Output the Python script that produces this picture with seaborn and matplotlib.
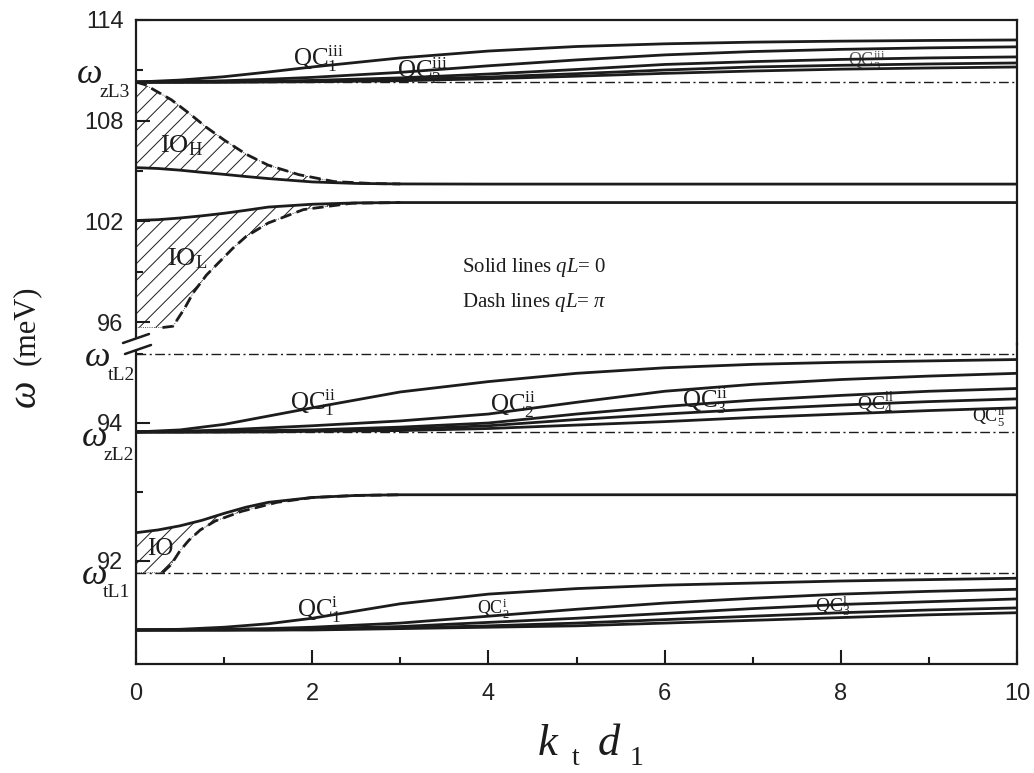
import numpy as np
import pandas as pd
import matplotlib
matplotlib.use("Agg")
import matplotlib.pyplot as plt
import seaborn as sns
from matplotlib.lines import Line2D
from matplotlib.patches import Polygon

# ---------------- data ----------------
x_qc = [0, 0.5, 1, 1.5, 2, 3, 4, 5, 6, 7, 8, 9, 10]

# upper group QC^iii (start at omega_zL3)
qc_iii_1 = [110.3, 110.42, 110.62, 110.9, 111.2, 111.74, 112.15, 112.42, 112.58, 112.68, 112.74, 112.78, 112.81]
qc_iii_2 = [110.3, 110.32, 110.38, 110.47, 110.58, 110.88, 111.27, 111.62, 111.92, 112.12, 112.25, 112.34, 112.4]
qc_iii_3 = [110.3, 110.3, 110.32, 110.35, 110.4, 110.55, 110.78, 111.05, 111.35, 111.52, 111.65, 111.74, 111.8]
qc_iii_4 = [110.3, 110.3, 110.3, 110.32, 110.35, 110.45, 110.6, 110.8, 111.02, 111.2, 111.3, 111.38, 111.44]
qc_iii_5 = [110.3, 110.3, 110.3, 110.31, 110.32, 110.38, 110.5, 110.65, 110.82, 110.96, 111.07, 111.14, 111.2]

# middle group QC^ii (start at omega_zL2)
qc_ii_1 = [93.87, 93.9, 93.98, 94.1, 94.22, 94.45, 94.6, 94.72, 94.8, 94.85, 94.88, 94.9, 94.92]
qc_ii_2 = [93.87, 93.88, 93.9, 93.93, 93.96, 94.03, 94.13, 94.3, 94.46, 94.56, 94.63, 94.68, 94.72]
qc_ii_3 = [93.87, 93.87, 93.88, 93.89, 93.9, 93.94, 94.0, 94.13, 94.24, 94.33, 94.4, 94.46, 94.5]
qc_ii_4 = [93.87, 93.87, 93.87, 93.88, 93.89, 93.91, 93.96, 94.05, 94.13, 94.2, 94.26, 94.31, 94.35]
qc_ii_5 = [93.87, 93.87, 93.87, 93.87, 93.88, 93.89, 93.92, 93.97, 94.02, 94.08, 94.13, 94.18, 94.22]

# lower group QC^i
qc_i_1 = [91.0, 91.01, 91.04, 91.09, 91.17, 91.38, 91.52, 91.6, 91.65, 91.68, 91.71, 91.73, 91.75]
qc_i_2 = [91.0, 91.0, 91.01, 91.02, 91.04, 91.1, 91.2, 91.3, 91.39, 91.46, 91.52, 91.56, 91.59]
qc_i_3 = [91.0, 91.0, 91.0, 91.01, 91.02, 91.05, 91.11, 91.17, 91.24, 91.31, 91.37, 91.41, 91.45]
qc_i_4 = [91.0, 91.0, 91.0, 91.0, 91.01, 91.03, 91.06, 91.1, 91.15, 91.2, 91.25, 91.29, 91.32]
qc_i_5 = [91.0, 91.0, 91.0, 91.0, 91.0, 91.02, 91.04, 91.06, 91.1, 91.14, 91.18, 91.22, 91.25]

# interface (IO) modes
x_io = [0, 0.25, 0.5, 0.75, 1.0, 1.25, 1.5, 2, 2.5, 3, 4, 6, 8, 10]
ioH_solid = [105.2, 105.15, 105.05, 104.92, 104.8, 104.67, 104.55, 104.35, 104.26, 104.23, 104.22, 104.22, 104.22, 104.22]
ioH_dash_x = [0, 0.1, 0.4, 0.6, 0.8, 1.0, 1.25, 1.5, 1.85, 2.25, 2.7, 3.0]
ioH_dash = [110.3, 110.15, 109.25, 108.45, 107.6, 106.85, 106.0, 105.35, 104.78, 104.37, 104.25, 104.23]

ioL_solid = [102.05, 102.1, 102.2, 102.33, 102.48, 102.66, 102.85, 103.02, 103.1, 103.12, 103.12, 103.12, 103.12, 103.12]
ioL_dash_x = [0.3, 0.42, 0.55, 0.65, 0.8, 0.95, 1.1, 1.25, 1.5, 1.9, 2.45, 3.0]
ioL_dash = [95.67, 95.75, 96.8, 97.75, 98.8, 99.6, 100.4, 101.1, 101.9, 102.7, 103.08, 103.12]

io1_solid = [92.41, 92.45, 92.51, 92.59, 92.69, 92.78, 92.85, 92.92, 92.95, 92.96, 92.96, 92.96, 92.96, 92.96]
io1_dash_x = [0.3, 0.4, 0.5, 0.6, 0.73, 0.9, 1.2, 1.6, 2.0, 2.5, 3.0]
io1_dash = [91.83, 91.95, 92.15, 92.3, 92.45, 92.58, 92.72, 92.85, 92.92, 92.95, 92.96]

# bulk reference frequencies (dash-dot lines)
w_zL3 = 110.3
w_tL2 = 95.0
w_zL2 = 93.87
w_tL1 = 91.83

x_ticks = [0, 2, 4, 6, 8, 10]
y_ticks_top = [96, 102, 108, 114]
y_ticks_bot = [92, 94]

# ---------------- style ----------------
sns.set_theme(style="ticks")
plt.rcParams["font.family"] = ["Liberation Sans", "DejaVu Sans"]
plt.rcParams["mathtext.fontset"] = "custom"
plt.rcParams["mathtext.rm"] = "Liberation Serif"
plt.rcParams["mathtext.it"] = "Liberation Serif:italic"
plt.rcParams["hatch.linewidth"] = 0.7

W, H = 1034, 773
fig = plt.figure(figsize=(W / 100, H / 100), dpi=100)
ax_top = fig.add_axes([136 / W, 1 - 344 / H, 881 / W, 324 / H])
ax_bot = fig.add_axes([136 / W, 1 - 664 / H, 881 / W, 320 / H])

LC = "#1c1c1c"
LW = 2.0
SERIF = "Liberation Serif"


def solid(ax, x, y):
    sns.lineplot(x=x, y=y, ax=ax, color=LC, lw=LW, estimator=None, sort=False, zorder=4)


def dashed(ax, x, y):
    sns.lineplot(x=x, y=y, ax=ax, color=LC, lw=LW, estimator=None, sort=False,
                 linestyle=(0, (4, 2)), zorder=4)


def dashdot(ax, yv):
    ax.axhline(yv, color=LC, lw=1.0, linestyle=(0, (7, 2.5, 1.5, 2.5)), zorder=3)


def hatch_region(ax, xs, ys):
    poly = Polygon(np.column_stack([xs, ys]), closed=True, fill=False, hatch="//",
                   edgecolor=LC, lw=0.6, linestyle=":", zorder=2)
    ax.add_patch(poly)


# ---------------- upper panel ----------------
for c in [qc_iii_1, qc_iii_2, qc_iii_3, qc_iii_4, qc_iii_5]:
    solid(ax_top, x_qc, c)
dashdot(ax_top, w_zL3)

xio = np.array(x_io)
m = xio <= 3
# IO_H region
xs = list(xio[m]) + ioH_dash_x[::-1]
ys = list(np.array(ioH_solid)[m]) + ioH_dash[::-1]
hatch_region(ax_top, xs, ys)
solid(ax_top, x_io, ioH_solid)
dashed(ax_top, ioH_dash_x, ioH_dash)
# IO_L region
xs = list(xio[m]) + ioL_dash_x[::-1] + [x_io[0]]
ys = list(np.array(ioL_solid)[m]) + ioL_dash[::-1] + [ioL_dash[0]]
hatch_region(ax_top, xs, ys)
solid(ax_top, x_io, ioL_solid)
dashed(ax_top, ioL_dash_x, ioL_dash)

# ---------------- lower panel ----------------
for c in [qc_ii_1, qc_ii_2, qc_ii_3, qc_ii_4, qc_ii_5]:
    solid(ax_bot, x_qc, c)
for c in [qc_i_1, qc_i_2, qc_i_3, qc_i_4, qc_i_5]:
    solid(ax_bot, x_qc, c)
for v in [w_tL2, w_zL2, w_tL1]:
    dashdot(ax_bot, v)
xs = list(xio[m]) + io1_dash_x[::-1] + [x_io[0]]
ys = list(np.array(io1_solid)[m]) + io1_dash[::-1] + [io1_dash[0]]
hatch_region(ax_bot, xs, ys)
solid(ax_bot, x_io, io1_solid)
dashed(ax_bot, io1_dash_x, io1_dash)

# ---------------- axes cosmetics ----------------
ax_top.set_xlim(0, 10)
ax_bot.set_xlim(0, 10)
ax_top.set_ylim(94.69, 114)
ax_bot.set_ylim(90.507, 95.145)

ax_top.set_yticks(y_ticks_top)
ax_top.set_yticks([99, 105, 111], minor=True)
ax_bot.set_yticks(y_ticks_bot)
ax_bot.set_yticks([91, 93, 95], minor=True)
ax_bot.set_xticks(x_ticks)
ax_bot.set_xticks([1, 3, 5, 7, 9], minor=True)
ax_top.set_xticks([])
ax_top.set_xticks([], minor=True)

for ax in (ax_top, ax_bot):
    ax.set_xlabel("")
    ax.set_ylabel("")
    ax.set_facecolor("white")
    for s in ax.spines.values():
        s.set_linewidth(1.6)
        s.set_color(LC)
    ax.tick_params(which="both", direction="in", top=False, right=False, color=LC, width=1.5)
    ax.tick_params(which="major", length=10, labelsize=17, pad=9, labelcolor="#222222")
    ax.tick_params(which="minor", length=5)
ax_bot.tick_params(axis="x", which="major", pad=14)
ax_top.spines["bottom"].set_visible(False)
ax_bot.spines["top"].set_visible(False)
ax_top.patch.set_alpha(0)
ax_bot.patch.set_alpha(0)


def ptxt(ax, x, y, s, size, **kw):
    ax.text(x, y, s, fontsize=size, family=SERIF, ha="left", va="baseline", color=LC, zorder=6, **kw)


# QC labels
ptxt(ax_top, 1.78, 111.25, r"QC$_{1}^{\mathrm{iii}}$", 18)
ptxt(ax_top, 2.96, 110.55, r"QC$_{2}^{\mathrm{iii}}$", 18)
ptxt(ax_top, 8.08, 111.2, r"QC$_{3}^{\mathrm{iii}}$", 13, alpha=0.75)
ptxt(ax_bot, 1.75, 94.19, r"QC$_{1}^{\mathrm{ii}}$", 18)
ptxt(ax_bot, 4.02, 94.16, r"QC$_{2}^{\mathrm{ii}}$", 18)
ptxt(ax_bot, 6.2, 94.22, r"QC$_{3}^{\mathrm{ii}}$", 18)
ptxt(ax_bot, 8.18, 94.19, r"QC$_{4}^{\mathrm{ii}}$", 14)
ptxt(ax_bot, 9.49, 94.0, r"QC$_{5}^{\mathrm{ii}}$", 13)
ptxt(ax_bot, 1.83, 91.19, r"QC$_{1}^{\mathrm{i}}$", 18)
ptxt(ax_bot, 3.87, 91.22, r"QC$_{2}^{\mathrm{i}}$", 13)
ptxt(ax_bot, 7.71, 91.26, r"QC$_{3}^{\mathrm{i}}$", 14)

# IO labels
ptxt(ax_top, 0.27, 106.13, r"IO$_{\mathrm{H}}$", 19)
ptxt(ax_top, 0.35, 99.4, r"IO$_{\mathrm{L}}$", 19)
ptxt(ax_bot, 0.125, 92.09, "IO", 18)

# legend-like notes
ptxt(ax_top, 3.7, 98.98, r"Solid lines $qL$= 0", 15)
ptxt(ax_top, 3.7, 96.9, r"Dash lines $qL$= $\pi$", 15)


# omega labels at the left
def ftxt(px, py, s, size, **kw):
    fig.text(px / W, 1 - py / H, s, fontsize=size, family=SERIF, color=LC, **kw)


for (wx, wy, sx, sy, sub) in [(77, 83, 100, 97, "zL3"), (85, 366, 108, 380, "tL2"),
                              (82, 446, 103, 460, "zL2"), (82, 584, 103, 597, "tL1")]:
    ftxt(wx, wy, "ω", 26, style="italic", ha="left", va="baseline")
    ftxt(sx, sy, sub, 14, ha="left", va="baseline")

# y label
ftxt(25, 393, "ω", 28, style="italic", rotation=90, ha="center", va="center")
ftxt(26, 325, "(meV)", 22, rotation=90, ha="center", va="center")

# x label
ftxt(538, 755, "k", 32, style="italic", ha="left", va="baseline")
ftxt(572, 765, "t", 20, ha="left", va="baseline")
ftxt(598, 755, "d", 32, style="italic", ha="left", va="baseline")
ftxt(630, 765, "1", 20, ha="left", va="baseline")

# axis break marks
fig.add_artist(Polygon([[130 / W, 1 - 339 / H], [142 / W, 1 - 339 / H], [142 / W, 1 - 350 / H], [130 / W, 1 - 350 / H]],
                       closed=True, facecolor="white", edgecolor="none", transform=fig.transFigure, zorder=10))
for (x0, y0, x1, y1) in [(123, 343, 149, 334), (125, 354, 151, 345)]:
    fig.add_artist(Line2D([x0 / W, x1 / W], [1 - y0 / H, 1 - y1 / H], color=LC, lw=1.8,
                          transform=fig.transFigure, zorder=11))

fig.savefig("out.png", dpi=100, facecolor="white")
